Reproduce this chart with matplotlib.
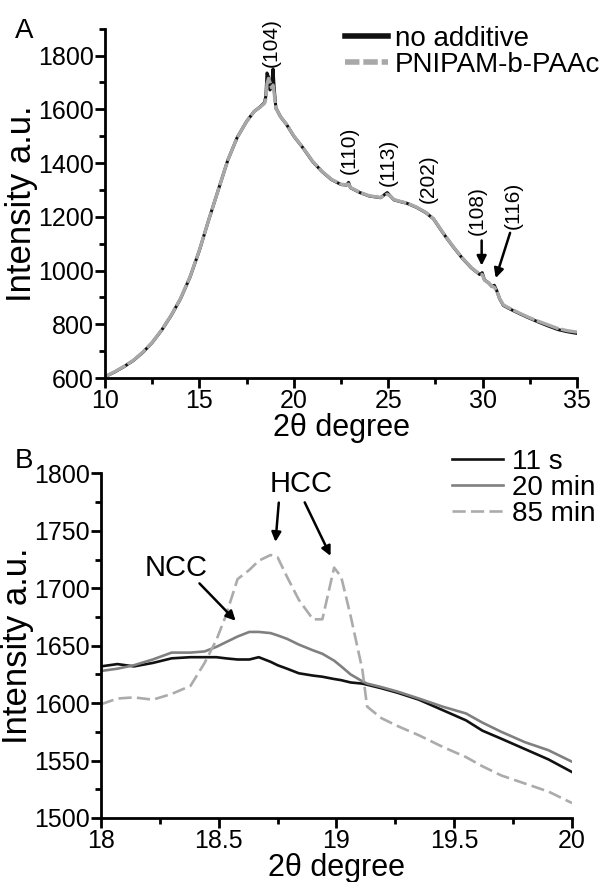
import numpy as np
import matplotlib
matplotlib.use('Agg')
import matplotlib.pyplot as plt
from matplotlib.ticker import MultipleLocator

plt.rcParams['font.family'] = ['Liberation Sans', 'DejaVu Sans']

# panel A: full XRD pattern
x_a = [10.0, 10.5, 11.0, 11.5, 12.0, 12.5, 13.0, 13.5, 14.0, 14.5, 15.0, 15.5,
       16.0, 16.5, 17.0, 17.5, 17.9, 18.2, 18.45, 18.52, 18.58, 18.66, 18.74,
       18.82, 18.9, 18.96, 19.05, 19.15, 19.3, 19.6, 20.0, 20.5, 21.0, 21.5,
       22.0, 22.5, 22.8, 22.9, 23.0, 23.5, 24.0, 24.6, 24.85, 24.95, 25.1, 25.3,
       25.6, 26.0, 26.5, 27.0, 27.4, 27.9, 28.4, 28.9, 29.4, 29.85, 29.98, 30.1,
       30.3, 30.5, 30.62, 30.75, 30.9, 31.1, 31.5, 32.0, 32.5, 33.0, 33.5, 34.0,
       34.5, 35.0]
no_additive = [605, 622, 642, 665, 695, 732, 778, 832, 895, 975, 1075, 1190,
               1300, 1410, 1495, 1555, 1592, 1608, 1625, 1650, 1735, 1720, 1672,
               1690, 1750, 1680, 1605, 1592, 1572, 1545, 1500, 1455, 1405, 1368,
               1338, 1320, 1318, 1328, 1308, 1290, 1277, 1271, 1285, 1290, 1278, 1263,
               1257, 1250, 1235, 1215, 1192, 1140, 1092, 1048, 1010, 985, 992, 965,
               955, 940, 945, 925, 895, 870, 855, 838, 822, 807, 793, 780,
               772, 766]
pnipam = [605, 623, 643, 666, 696, 733, 779, 833, 896, 976, 1076, 1190,
          1300, 1410, 1495, 1555, 1592, 1607, 1622, 1640, 1695, 1715, 1700,
          1680, 1690, 1660, 1603, 1592, 1572, 1546, 1501, 1456, 1406, 1369,
          1339, 1321, 1319, 1322, 1309, 1291, 1278, 1272, 1282, 1284, 1278, 1264,
          1258, 1251, 1236, 1216, 1193, 1141, 1093, 1049, 1011, 986, 985, 964,
          955, 941, 938, 924, 896, 872, 857, 840, 824, 810, 797, 784,
          776, 771]

peak_labels = ['(104)', '(110)', '(113)', '(202)', '(108)', '(116)']
peak_x = [18.8, 22.95, 25.0, 27.1, 29.7, 31.6]
peak_y = [1850, 1448, 1402, 1342, 1225, 1244]

# panel B: zoom on the (104) region
x_b = [18.0, 18.07, 18.14, 18.22, 18.3, 18.38, 18.44, 18.49, 18.53, 18.58, 18.63,
       18.67, 18.72, 18.75, 18.79, 18.84, 18.9, 18.94, 18.99, 19.02, 19.06, 19.11,
       19.13, 19.19, 19.26, 19.35, 19.45, 19.55, 19.62, 19.7, 19.8, 19.9, 20.0]
t_11s = [1632, 1634, 1632, 1635, 1639, 1640, 1640, 1640, 1639, 1638, 1638,
         1640, 1636, 1633, 1630, 1626, 1624, 1623, 1621, 1620, 1618, 1617,
         1616, 1613, 1609, 1603, 1594, 1585, 1576, 1569, 1560, 1551, 1540]
t_20min = [1628, 1630, 1633, 1638, 1644, 1644, 1645, 1649, 1653, 1658, 1662,
           1662, 1661, 1659, 1656, 1651, 1646, 1643, 1637, 1632, 1625, 1619,
           1617, 1614, 1610, 1604, 1597, 1591, 1583, 1575, 1566, 1559, 1549]
t_85min = [1599, 1604, 1605, 1603, 1608, 1615, 1635, 1655, 1676, 1708, 1716,
           1724, 1729, 1727, 1710, 1690, 1673, 1673, 1718, 1710, 1676, 1629,
           1597, 1587, 1580, 1572, 1562, 1553, 1545, 1537, 1530, 1523, 1513]

fig = plt.figure(figsize=(6.12, 8.82), dpi=100)
axA = fig.add_axes([0.1716, 0.5714, 0.7712, 0.3961])
axB = fig.add_axes([0.165, 0.0726, 0.7696, 0.3906])


def style_axis(ax):
    for s in ['top', 'right']:
        ax.spines[s].set_visible(False)
    for s in ['left', 'bottom']:
        ax.spines[s].set_linewidth(2)
    ax.tick_params(which='major', direction='out', length=7, width=2,
                   labelsize=18, pad=1)
    ax.tick_params(which='minor', direction='out', length=4, width=2)


# ---- A ----
axA.plot(x_a, no_additive, color='#111111', lw=2.2, label='no additive')
axA.plot(x_a, pnipam, color='#a8a8a8', lw=2.4, dashes=(7, 0.7),
         label='PNIPAM-b-PAAc')
axA.set_xlim(10, 35)
axA.set_ylim(600, 1900)
axA.xaxis.set_major_locator(MultipleLocator(5))
axA.xaxis.set_minor_locator(MultipleLocator(2.5))
axA.yaxis.set_minor_locator(MultipleLocator(100))
axA.set_yticks([600, 800, 1000, 1200, 1400, 1600, 1800])
style_axis(axA)
axA.set_xlabel('2θ degree', fontsize=22, labelpad=0)
axA.set_ylabel('Intensity a.u.', fontsize=25, labelpad=0)

for lab, px, py in zip(peak_labels, peak_x, peak_y):
    axA.text(px, py, lab, rotation=90, ha='center', va='center', fontsize=15)

axA.annotate('', xy=(29.95, 1008), xytext=(29.95, 1122),
             arrowprops=dict(arrowstyle='-|>', color='black', lw=1.8,
                             mutation_scale=14))
axA.annotate('', xy=(30.65, 962), xytext=(31.5, 1150),
             arrowprops=dict(arrowstyle='-|>', color='black', lw=1.8,
                             mutation_scale=14))

legA = axA.legend(loc='upper left', bbox_to_anchor=(345 / 612, 1 - 26 / 882),
                  bbox_transform=fig.transFigure, frameon=False, fontsize=20,
                  handlelength=1.55, handletextpad=0.25, labelspacing=0.0,
                  borderpad=0, borderaxespad=0)
for ln in legA.get_lines():
    ln.set_linewidth(4)
legA.get_lines()[1].set_dashes((2.6, 0.7))

# ---- B ----
axB.plot(x_b, t_11s, color='#111111', lw=1.9, label='11 s')
axB.plot(x_b, t_20min, color='#808080', lw=1.9, label='20 min')
axB.plot(x_b, t_85min, color='#ababab', lw=1.9, dashes=(5, 2), label='85 min')
axB.set_xlim(18, 20)
axB.set_ylim(1500, 1800)
axB.xaxis.set_minor_locator(MultipleLocator(0.25))
axB.yaxis.set_major_locator(MultipleLocator(50))
axB.yaxis.set_minor_locator(MultipleLocator(25))
axB.set_xticks([18, 18.5, 19, 19.5, 20])
axB.set_xticklabels(['18', '18.5', '19', '19.5', '20'])
style_axis(axB)
axB.set_xlabel('2θ degree', fontsize=22, labelpad=0)
axB.set_ylabel('Intensity a.u.', fontsize=25, labelpad=0)

axB.text(18.32, 1718, 'NCC', ha='center', va='center', fontsize=21)
axB.text(18.85, 1791, 'HCC', ha='center', va='center', fontsize=21)
arrow_kw = dict(arrowstyle='-|>', color='black', lw=1.8, mutation_scale=14)
axB.annotate('', xy=(18.58, 1670), xytext=(18.41, 1706), arrowprops=arrow_kw)
axB.annotate('', xy=(18.74, 1738), xytext=(18.756, 1777), arrowprops=arrow_kw)
axB.annotate('', xy=(18.98, 1726), xytext=(18.86, 1777), arrowprops=arrow_kw)

legB = axB.legend(loc='upper left', bbox_to_anchor=(452 / 612, 1 - 449 / 882),
                  bbox_transform=fig.transFigure, frameon=False, fontsize=20,
                  handlelength=1.85, handletextpad=0.3, labelspacing=0.0,
                  borderpad=0, borderaxespad=0)

fig.text(24 / 612, 1 - 31 / 882, 'A', ha='center', va='center', fontsize=20)
fig.text(24 / 612, 1 - 461 / 882, 'B', ha='center', va='center', fontsize=20)

fig.savefig('out.png', dpi=100)
